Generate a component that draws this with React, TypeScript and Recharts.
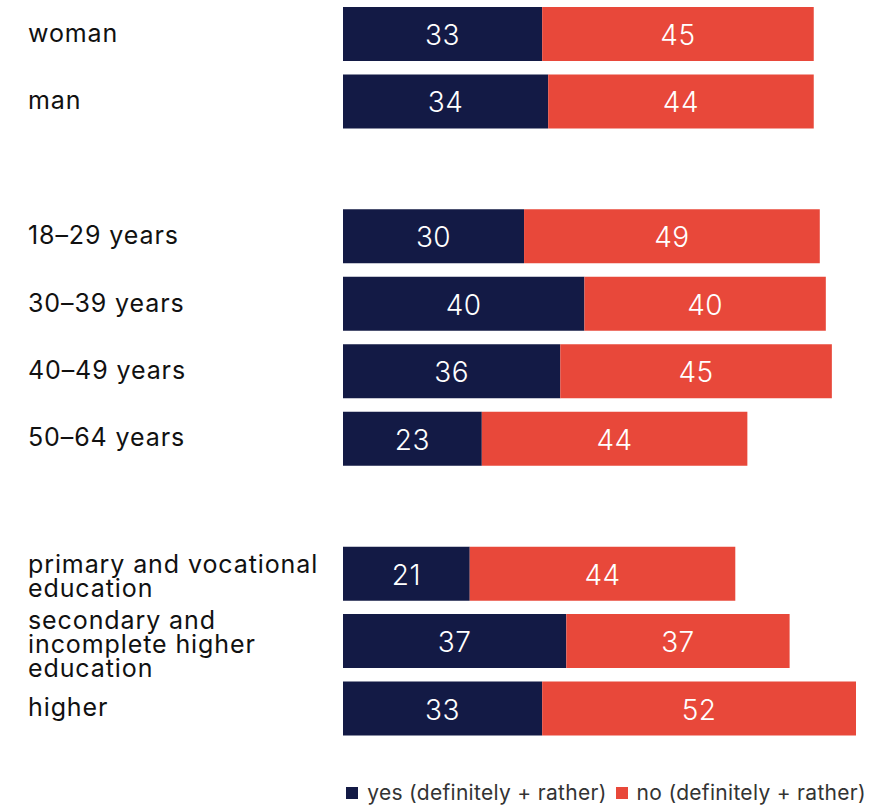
import { BarChart, Bar, XAxis, YAxis, Legend, LabelList } from "recharts";

// null = empty spacer row between groups
const categories: (string | null)[] = [
  "woman",
  "man",
  null,
  "18–29 years",
  "30–39 years",
  "40–49 years",
  "50–64 years",
  null,
  "primary and vocational\neducation",
  "secondary and\nincomplete higher\neducation",
  "higher",
];

const yesValues: (number | null)[] = [33, 34, null, 30, 40, 36, 23, null, 21, 37, 33];
const noValues: (number | null)[] = [45, 44, null, 49, 40, 45, 44, null, 44, 37, 52];

const seriesNames = ["yes (definitely + rather)", "no (definitely + rather)"];
const NAVY = "#131a45";
const RED = "#e8483a";
const FONT = "Inter, 'Noto Sans', sans-serif";

const data = categories.map((c, i) => ({
  id: `row${i}`,
  label: c,
  yes: yesValues[i],
  no: noValues[i],
}));

function CategoryTick(props: any) {
  const { y, payload } = props;
  const row = data[payload.index];
  if (!row || !row.label) return null;
  const lines = row.label.split("\n");
  const n = lines.length;
  const first = y - (n - 1) * 12 + (n > 1 ? 3 : -1);
  return (
    <text
      x={28}
      y={first}
      textAnchor="start"
      dominantBaseline="central"
      fontFamily={FONT}
      fontSize={25}
      letterSpacing={0.9}
      fill="#111"
    >
      {lines.map((l: string, i: number) => (
        <tspan key={i} x={28} y={first + i * 24} dominantBaseline="central">
          {l}
        </tspan>
      ))}
    </text>
  );
}

function BarValue(props: any) {
  const { x, y, width, height, value } = props;
  if (value === null || value === undefined) return null;
  return (
    <text
      x={x + width / 2}
      y={y + height / 2 + 1}
      textAnchor="middle"
      dominantBaseline="central"
      fill="#fff"
      fontFamily={FONT}
      fontSize={28}
      fontWeight={300}
      letterSpacing={0.5}
    >
      {value}
    </text>
  );
}

function LegendContent() {
  const colors = [NAVY, RED];
  return (
    <div
      style={{
        display: "flex",
        justifyContent: "flex-end",
        alignItems: "center",
        fontFamily: FONT,
        fontSize: 21,
        letterSpacing: 0.3,
        color: "#333",
        lineHeight: "24px",
      }}
    >
      {seriesNames.map((name, i) => (
        <div key={name} style={{ display: "flex", alignItems: "center", marginLeft: i ? 9 : 0 }}>
          <span
            style={{
              display: "inline-block",
              width: 12,
              height: 12,
              background: colors[i],
              marginRight: 9,
            }}
          />
          {name}
        </div>
      ))}
    </div>
  );
}

export default function App() {
  return (
    <div style={{ position: "absolute", left: 0, top: 0, background: "#fff" }}>
      <BarChart
        width={872}
        height={805}
        data={data}
        layout="vertical"
        margin={{ top: 0, right: 16, bottom: 39, left: 0 }}
        barSize={54}
      >
        <XAxis type="number" domain={[0, 85]} hide />
        <YAxis
          type="category"
          dataKey="id"
          width={343}
          axisLine={false}
          tickLine={false}
          tick={<CategoryTick />}
        />
        <Legend
          verticalAlign="bottom"
          content={<LegendContent />}
          wrapperStyle={{ bottom: 0, right: 6, left: "auto", width: "auto" }}
        />
        <Bar dataKey="yes" stackId="a" fill={NAVY} isAnimationActive={false}>
          <LabelList dataKey="yes" content={<BarValue />} />
        </Bar>
        <Bar dataKey="no" stackId="a" fill={RED} isAnimationActive={false}>
          <LabelList dataKey="no" content={<BarValue />} />
        </Bar>
      </BarChart>
    </div>
  );
}
